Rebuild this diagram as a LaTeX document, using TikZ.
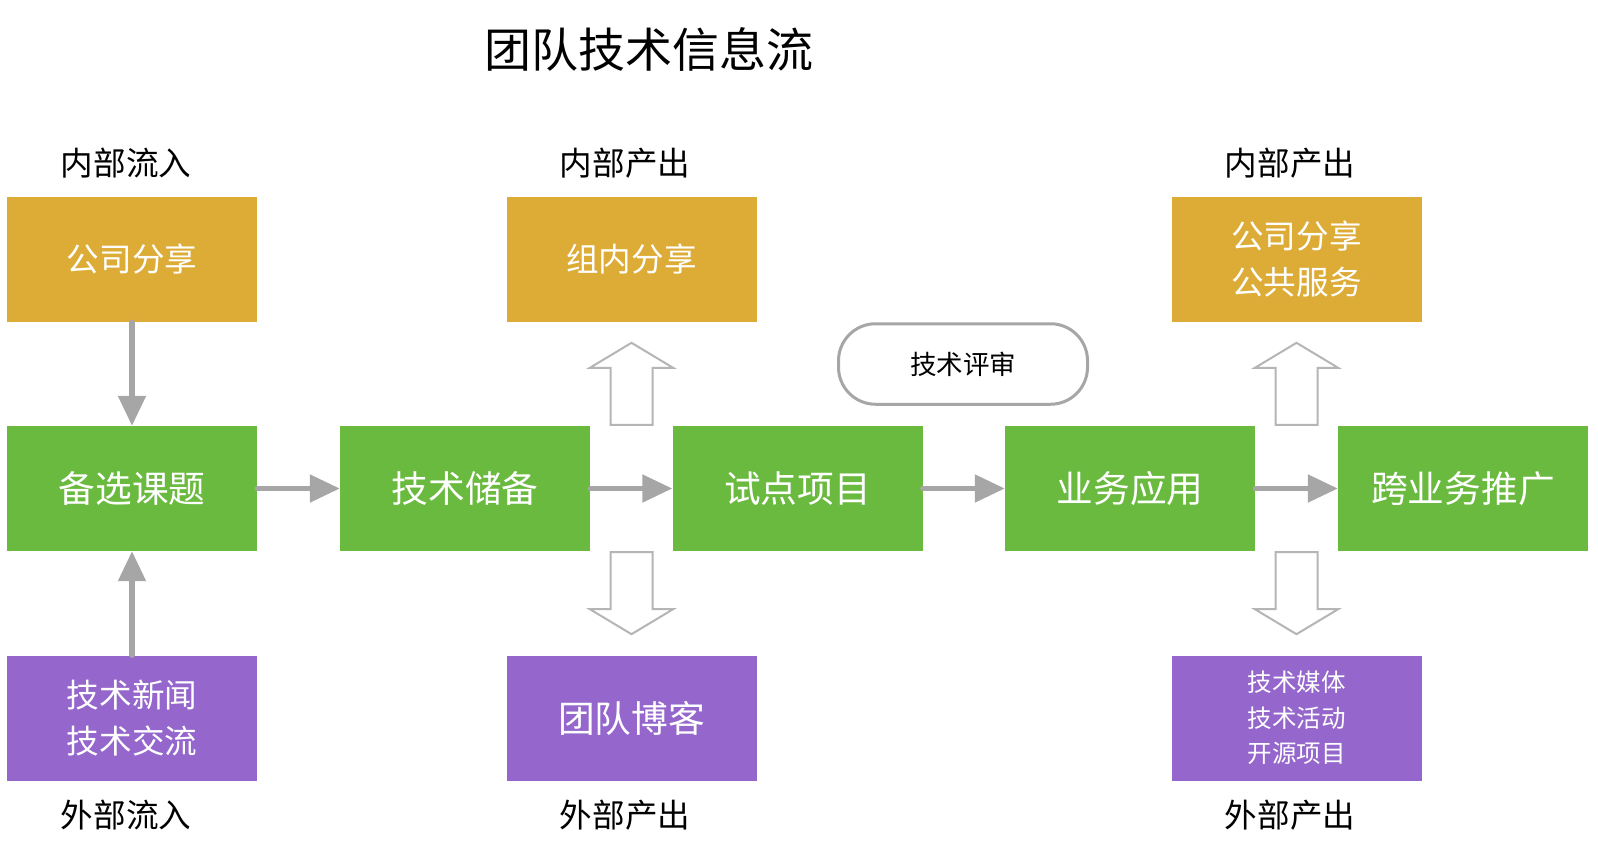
\documentclass[tikz,border=0pt]{standalone}
\usepackage{fontspec}
\setmainfont{Noto Sans CJK SC}
\usepackage{tikz}
\usetikzlibrary{arrows.meta}
\usetikzlibrary{shapes.arrows}
\usetikzlibrary{positioning}
\definecolor{shareyellow}{HTML}{DDAC37}
\definecolor{stepgreen}{HTML}{6BBA40}
\definecolor{outpurple}{HTML}{9567CC}
\definecolor{flowgray}{HTML}{A6A6A6}
\definecolor{hollowgray}{HTML}{B5B5B5}
\tikzstyle{box}=[minimum width=250pt,minimum height=125pt,inner sep=0pt,text=white,align=center]
\tikzstyle{inner}=[box,fill=shareyellow,font=\fontsize{32.6}{46}\selectfont]
\tikzstyle{stage}=[box,fill=stepgreen,font=\fontsize{36.7}{40}\selectfont]
\tikzstyle{outer}=[box,fill=outpurple,font=\fontsize{32.6}{46}\selectfont]
\tikzstyle{side}=[font=\fontsize{32.6}{36}\selectfont]
\tikzstyle{flow}=[color=flowgray,line width=5.1pt,line cap=round,-{Triangle[length=30pt,width=27pt]}]
\tikzstyle{hollow}=[single arrow,draw=hollowgray,line width=2pt,fill=white,inner sep=0pt,text height=40pt,text depth=0pt,minimum height=82pt,single arrow head extend=20.8pt,single arrow tip angle=118,anchor=tail]
\tikzstyle{review}=[draw=flowgray,line width=3pt,rounded corners=37pt,minimum width=249pt,minimum height=80.5pt,font=\fontsize{26.5}{30}\selectfont]

\begin{document}
\begin{tikzpicture}[x=1pt,y=-1pt]
    \useasboundingbox (0,0) rectangle (1598,856);

    \node[font=\fontsize{47}{50}\selectfont] (title) at (649,49) {团队技术信息流};

    \node[side] (inlabel) at (126,163) {内部流入};
    \node[side] (midtoplabel) at (625,163) {内部产出};
    \node[side] (righttoplabel) at (1290,163) {内部产出};
    \node[side] (outlabel) at (126,815.5) {外部流入};
    \node[side] (midbotlabel) at (625,815.5) {外部产出};
    \node[side] (rightbotlabel) at (1290,815.5) {外部产出};

    \node[inner] (companyin) at (132,259.5) {公司分享};
    \node[inner] (groupshare) at (631.5,259.5) {组内分享};
    \node[inner] (companyout) at (1296.5,259.5) {公司分享\\公共服务};

    \node[stage] (candidate) at (132,488.5) {备选课题};
    \node[stage] (reserve) at (465,488.5) {技术储备};
    \node[stage] (pilot) at (797.5,488.5) {试点项目};
    \node[stage] (business) at (1130,488.5) {业务应用};
    \node[stage] (crossbiz) at (1463,488.5) {跨业务推广};

    \node[outer] (news) at (132,718) {技术新闻\\技术交流};
    \node[outer,font=\fontsize{36.7}{40}\selectfont] (blog) at (631.5,718) {团队博客};
    \node[outer,font=\fontsize{24.5}{35.7}\selectfont] (media) at (1296.5,718) {技术媒体\\技术活动\\开源项目};

    \node[review] (techreview) at (963,364) {技术评审};

    \node[hollow,rotate=90] (upmid) at (groupshare.south |- pilot.north) {};
    \node[hollow,rotate=-90] (downmid) at (blog.north |- pilot.south) {};
    \node[hollow,rotate=90] (upright) at (companyout.south |- crossbiz.north) {};
    \node[hollow,rotate=-90] (downright) at (media.north |- crossbiz.south) {};

    \draw[flow] (companyin) edge (candidate) ;
    \draw[flow] (news) edge (candidate) ;
    \draw[flow] (candidate) edge (reserve) ;
    \draw[flow] (reserve) edge (pilot) ;
    \draw[flow] (pilot) edge (business) ;
    \draw[flow] (business) edge (crossbiz) ;
\end{tikzpicture}
\end{document}
